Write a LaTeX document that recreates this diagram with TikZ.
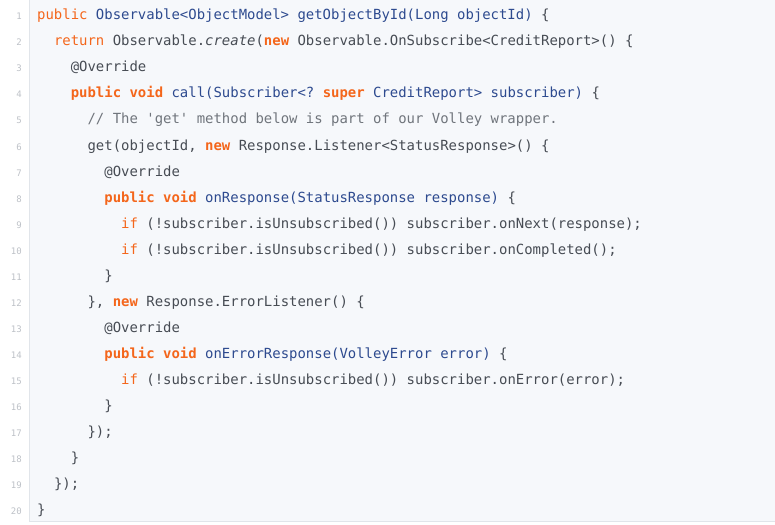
\documentclass[tikz,border=0pt]{standalone}
\usepackage{fontspec}
\setmonofont{DejaVu Sans Mono}
\definecolor{kwc}{HTML}{F4661B}
\definecolor{blc}{HTML}{2D4A8F}
\definecolor{txc}{HTML}{474C54}
\definecolor{cmc}{HTML}{70757C}
\definecolor{lnc}{HTML}{BDC1C7}
\definecolor{bgc}{HTML}{F6F8FB}
\definecolor{bdc}{HTML}{E1E5EA}
\newcommand{\kwb}[1]{\textcolor{kwc}{\bfseries #1}}
\newcommand{\kwr}[1]{\textcolor{kwc}{#1}}
\newcommand{\blu}[1]{\textcolor{blc}{#1}}
\begin{document}
\begin{tikzpicture}[x=1pt,y=1pt,
  codeline/.style={anchor=base west,inner sep=0pt,font=\ttfamily\fontsize{13.95}{16}\selectfont,text=txc},
  lineno/.style={anchor=base east,inner sep=0pt,font=\ttfamily\fontsize{9}{10}\selectfont,text=lnc}]
\useasboundingbox (0,0) rectangle (775,-524);
\filldraw[fill=bgc,draw=bdc,line width=1pt] (29.5,1) rectangle (776,-521.5);
\newcommand{\cl}[3]{%
  \node[lineno] (n#1) at (22,{-20-26*(#1-1)}) {#1};
  \node[codeline] (c#1) at ({37+8.4*#2},{-20-26*(#1-1)}) {#3};}
\cl{1}{0}{\kwr{public} \blu{Observable<ObjectModel> getObjectById(Long objectId)} \{}
\cl{2}{2}{\kwr{return} Observable.\textit{create}(\kwb{new} Observable.OnSubscribe<CreditReport>() \{}
\cl{3}{4}{@Override}
\cl{4}{4}{\kwb{public} \kwb{void} \blu{call(Subscriber<?} \kwb{super} \blu{CreditReport> subscriber)} \{}
\cl{5}{6}{\textcolor{cmc}{// The 'get' method below is part of our Volley wrapper.}}
\cl{6}{6}{get(objectId, \kwb{new} Response.Listener<StatusResponse>() \{}
\cl{7}{8}{@Override}
\cl{8}{8}{\kwb{public} \kwb{void} \blu{onResponse(StatusResponse response)} \{}
\cl{9}{10}{\kwr{if} (!subscriber.isUnsubscribed()) subscriber.onNext(response);}
\cl{10}{10}{\kwr{if} (!subscriber.isUnsubscribed()) subscriber.onCompleted();}
\cl{11}{8}{\}}
\cl{12}{6}{\}, \kwb{new} Response.ErrorListener() \{}
\cl{13}{8}{@Override}
\cl{14}{8}{\kwb{public} \kwb{void} \blu{onErrorResponse(VolleyError error)} \{}
\cl{15}{10}{\kwr{if} (!subscriber.isUnsubscribed()) subscriber.onError(error);}
\cl{16}{8}{\}}
\cl{17}{6}{\});}
\cl{18}{4}{\}}
\cl{19}{2}{\});}
\cl{20}{0}{\}}
\end{tikzpicture}
\end{document}
